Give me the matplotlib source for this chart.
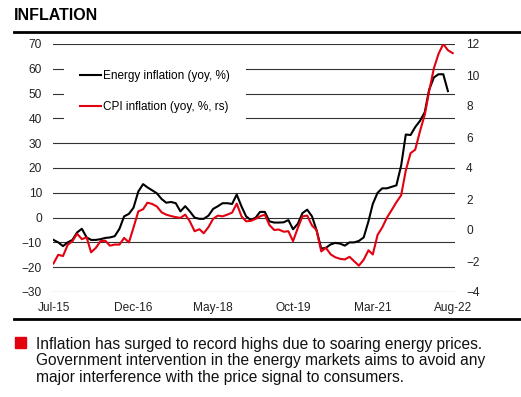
import matplotlib
matplotlib.use('Agg')
import matplotlib.pyplot as plt
import pandas as pd
from matplotlib.lines import Line2D
from matplotlib.patches import Rectangle

plt.rcParams['font.family'] = ['Liberation Sans', 'DejaVu Sans']

# monthly data, Jul-15 onwards
energy = [-9, -10, -11.5, -10, -9, -6, -4.5, -8, -9, -9,
          -8.7, -8.2, -8, -7.5, -4.5, 0.5, 1.5, 4, 10.5, 13.5,
          12.2, 11, 9.8, 7.5, 6, 6.3, 5.8, 2.5, 4.6, 2.5,
          0, -0.5, -0.5, 0.8, 3.5, 4.6, 5.8, 5.8, 5.5, 9.3,
          4.5, 0.5, -1, 0, 2.3, 2.3, -1.5, -2, -2, -1.9,
          -1, -4.7, -2.5, 1.8, 3.2, 0.5, -5, -12.5, -12.2, -10.8,
          -10.2, -10.5, -11.3, -10, -10, -9.4, -8, -1.5, 5.5, 10,
          11.8, 11.8, 12.4, 13, 21, 33.5, 33.3, 36.5, 39, 42.5,
          51.5, 56.5, 57.8, 57.8, 51]
cpi = [-2.16, -1.60, -1.68, -0.96, -0.72, -0.24, -0.59, -0.48, -1.44, -1.15,
       -0.72, -0.69, -1.01, -0.94, -0.94, -0.51, -0.80, 0.16, 1.20, 1.34,
       1.76, 1.68, 1.52, 1.14, 0.99, 0.90, 0.83, 0.78, 0.99, 0.56,
       -0.08, 0.05, -0.21, 0.19, 0.72, 0.93, 0.88, 0.99, 1.12, 1.70,
       0.88, 0.56, 0.59, 0.72, 0.88, 0.99, 0.32, 0.00, 0.03, -0.11,
       -0.08, -0.72, 0.13, 0.88, 0.93, 0.29, 0.00, -1.38, -1.15, -1.57,
       -1.76, -1.86, -1.90, -1.73, -2.02, -2.30, -1.92, -1.31, -1.58, -0.32,
       0.16, 0.80, 1.28, 1.79, 2.24, 3.84, 4.96, 5.18, 6.37, 7.44,
       8.93, 10.43, 11.36, 12.00, 11.60, 11.41]
xtick_labels = ['Jul-15', 'Dec-16', 'May-18', 'Oct-19', 'Mar-21', 'Aug-22']
left_ticks = [70, 60, 50, 40, 30, 20, 10, 0, -10, -20, -30]
right_ticks = [12, 10, 8, 6, 4, 2, 0, -2, -4]

dates = pd.date_range('2015-07-01', periods=len(cpi), freq='MS')
red = '#e3000f'

fig = plt.figure(figsize=(5.21, 3.97), dpi=100)
ax = fig.add_axes([53 / 521, 105 / 397, 402 / 521, 248 / 397])
ax2 = ax.twinx()

ax.plot(dates[:len(energy)], energy, color='black', lw=1.5, label='Energy inflation (yoy, %)', zorder=3)
ax2.plot(dates, cpi, color=red, lw=1.5, zorder=3)
ax.plot([], [], color=red, lw=1.5, label='CPI inflation (yoy, %, rs)')

ax.set_ylim(-30, 70)
ax.set_yticks(left_ticks)
ax2.set_ylim(-4, 12)
ax2.set_yticks(right_ticks)
ax.set_xlim(dates[0] - pd.Timedelta(days=3), dates[-1] + pd.Timedelta(days=15))
ax.set_xticks(dates[::17])
ax.set_xticklabels(xtick_labels)

for a in (ax, ax2):
    for s in a.spines.values():
        s.set_visible(False)
    a.tick_params(length=0, labelsize=8.6, colors='#222222')
ax.tick_params(axis='y', pad=8)
ax.tick_params(axis='x', pad=7)
ax2.tick_params(axis='y', pad=8)
ax.grid(axis='y', color='#333333', lw=0.8)
ax.set_axisbelow(True)

leg = ax.legend(loc='center left', bbox_to_anchor=(0.027, 0.808), borderaxespad=0,
                fontsize=8.5, frameon=True, facecolor='white', edgecolor='none',
                framealpha=1, fancybox=False, handlelength=1.75, handletextpad=0.15,
                labelspacing=1.65, borderpad=1.4)
leg.set_zorder(5)

fig.text(14 / 521, 1 - 15 / 397, 'INFLATION', fontsize=11.5, fontweight='bold', va='center')
fig.add_artist(Line2D([14 / 521, 1], [1 - 32 / 397] * 2, color='black', lw=2))
fig.add_artist(Line2D([14 / 521, 1], [1 - 319 / 397] * 2, color='black', lw=2))
fig.add_artist(Rectangle((15 / 521, 1 - 348 / 397), 11 / 521, 11 / 397,
                         transform=fig.transFigure, color=red))
fig.text(36 / 521, 1 - 361 / 397,
         'Inflation has surged to record highs due to soaring energy prices.\n'
         'Government intervention in the energy markets aims to avoid any\n'
         'major interference with the price signal to consumers.',
         fontsize=11.2, va='center', ha='left', linespacing=1.14, color='#111111')

fig.savefig('out.png', dpi=100)
